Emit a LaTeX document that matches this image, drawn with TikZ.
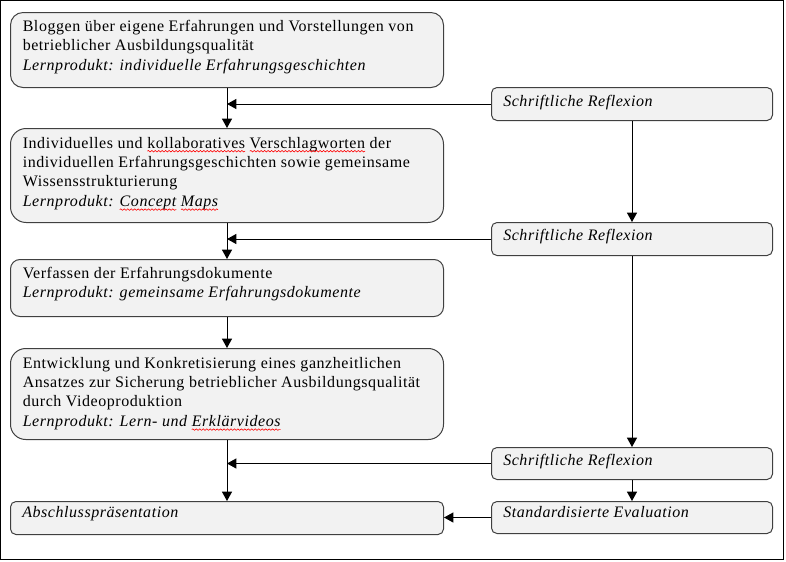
\documentclass[tikz,border=0pt]{standalone}
\usepackage{fontspec}
\setmainfont{Liberation Serif}[LetterSpace=3.5]
\newfontfamily\serf{Liberation Serif}[LetterSpace=3.5]
\usetikzlibrary{arrows.meta,decorations.pathmorphing}
\definecolor{boxfill}{HTML}{F2F2F2}
\definecolor{boxline}{HTML}{404040}
\newsavebox\sqbox
\newcommand\sq[1]{\sbox\sqbox{#1}\usebox\sqbox\hspace{-\wd\sqbox}%
  \tikz[overlay,baseline=0pt]{\draw[red, line width=0.45pt, decorate,
    decoration={snake,amplitude=0.55pt,segment length=2.6pt}]
    (0pt,-2.4pt) -- (\the\wd\sqbox,-2.4pt);}%
  \hspace{\wd\sqbox}}
\begin{document}
\begin{tikzpicture}[x=0.75pt,y=-0.75pt,
  box/.style={draw=boxline, fill=boxfill, line width=0.75pt, inner sep=0pt, anchor=north west},
  lbox/.style={box, minimum width=324.75pt},
  rbox/.style={box, minimum width=210.75pt, minimum height=24.75pt, rounded corners=4.1pt},
  txt/.style={inner sep=0pt, anchor=base west, font=\serf\fontsize{12}{14.6}\selectfont},
  arr/.style={line width=0.75pt, -{Triangle[length=7pt,width=7.5pt]}},
]
\useasboundingbox (0,0) rectangle (786,561);
\draw[line width=0.75pt] (0.5,0.5) rectangle (783.5,559.5);

% left column
\node[lbox, minimum height=56.25pt, rounded corners=9.4pt] (b1) at (10,12) {};
\node[lbox, minimum height=70.5pt, rounded corners=11.7pt] (b2) at (10,128) {};
\node[lbox, minimum height=42.75pt, rounded corners=7.1pt] (b3) at (10,259) {};
\node[lbox, minimum height=68.25pt, rounded corners=11.4pt] (b4) at (10,348) {};
\node[lbox, minimum height=24.75pt, rounded corners=4.1pt] (b5) at (10,501) {};

% right column
\node[rbox] (r1) at (491,87) {};
\node[rbox] (r2) at (491,222) {};
\node[rbox, minimum height=24pt] (r3) at (491,447) {};
\node[rbox, minimum height=24pt] (r4) at (491,501) {};

% texts
\node[txt] (t1) at ([shift={(12.5,19.5)}]b1.north west) {\parbox[t]{330pt}{\raggedright
  Bloggen über eigene Erfahrungen und Vorstellungen von\\
  betrieblicher Ausbildungsqualität\\
  \textit{Lernprodukt: individuelle Erfahrungsgeschichten}}};
\node[txt] (t2) at ([shift={(12.5,20)}]b2.north west) {\parbox[t]{330pt}{\raggedright
  Individuelles und \sq{kollaboratives} \sq{Verschlagworten} der\\
  individuellen Erfahrungsgeschichten sowie gemeinsame\\
  Wissensstrukturierung\\
  \textit{Lernprodukt: \sq{Concept} \sq{Maps}}}};
\node[txt] (t3) at ([shift={(12.5,19)}]b3.north west) {\parbox[t]{330pt}{\raggedright
  Verfassen der Erfahrungsdokumente\\
  \textit{Lernprodukt: gemeinsame Erfahrungsdokumente}}};
\node[txt] (t4) at ([shift={(12.5,20)}]b4.north west) {\parbox[t]{330pt}{\raggedright
  Entwicklung und Konkretisierung eines ganzheitlichen\\
  Ansatzes zur Sicherung betrieblicher Ausbildungsqualität\\
  durch Videoproduktion\\
  \textit{Lernprodukt: Lern- und \sq{Erklärvideos}}}};
\node[txt] (t5) at ([shift={(12,16)}]b5.north west) {\textit{Abschlusspräsentation}};

\node[txt] (s1) at ([shift={(12,19)}]r1.north west) {\textit{Schriftliche Reflexion}};
\node[txt] (s2) at ([shift={(12,18)}]r2.north west) {\textit{Schriftliche Reflexion}};
\node[txt] (s3) at ([shift={(12,18)}]r3.north west) {\textit{Schriftliche Reflexion}};
\node[txt] (s4) at ([shift={(12,16)}]r4.north west) {\textit{Standardisierte Evaluation}};

% connectors
\draw[arr] (b1.south) -- (b2.north);
\draw[arr] (b2.south) -- (b3.north);
\draw[arr] (b3.south) -- (b4.north);
\draw[arr] (b4.south) -- (b5.north);
\draw[arr] (r1.west) -- (r1.west -| b1.south);
\draw[arr] (r2.west) -- (r2.west -| b2.south);
\draw[arr] (r3.west) -- (r3.west -| b4.south);
\draw[arr] (r4.west) -- (r4.west -| b5.east);
\draw[arr] (r1.south) -- (r2.north);
\draw[arr] (r2.south) -- (r3.north);
\draw[arr] (r3.south) -- (r4.north);
\end{tikzpicture}
\end{document}
